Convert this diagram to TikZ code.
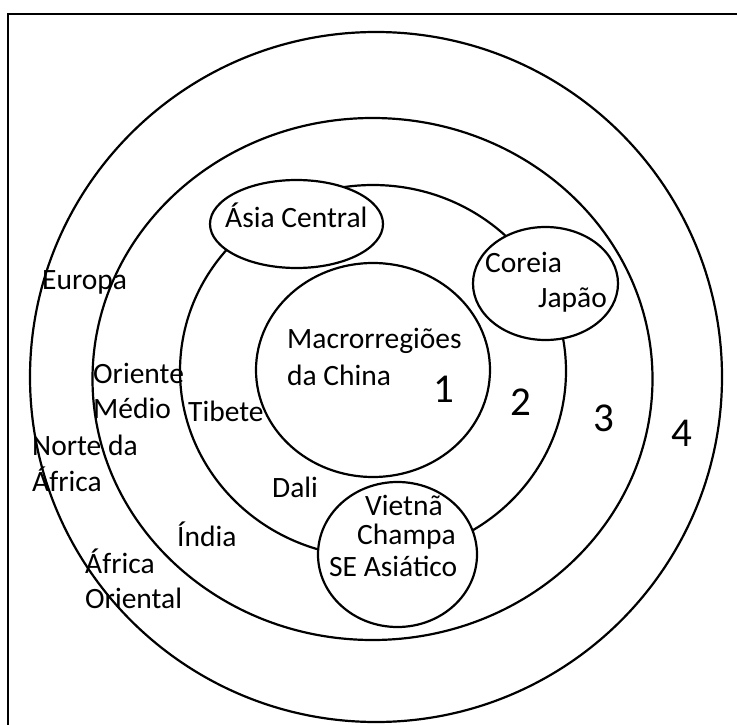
\documentclass[tikz,border=0pt]{standalone}
\usepackage{fontspec}
\setmainfont{Carlito}
\usetikzlibrary{shapes.geometric}
\begin{document}
\begin{tikzpicture}[x=1pt,y=-1pt,
  ring/.style={draw=black,line width=2.2pt},
  blob/.style={ellipse,draw=black,line width=2.2pt,fill=white,inner sep=0pt},
  lbl/.style={anchor=base west,inner sep=0pt,font=\fontsize{29.5}{35}\selectfont},
  num/.style={anchor=base west,inner sep=0pt,font=\fontsize{41}{48}\selectfont}]
\useasboundingbox (0,0) rectangle (737,725);
\clip (0,0) rectangle (737,725);
\fill[white] (0,0) rectangle (737,725);
% frame
\draw[line width=2.2pt] (8,740) -- (8,14) -- (750,14);
% rings
\draw[ring] (376,377) ellipse [x radius=346, y radius=345];
\draw[ring] (372.5,379) ellipse [x radius=280, y radius=261];
\draw[ring] (373,371) ellipse [x radius=193, y radius=186];
\draw[ring] (373,370) ellipse [x radius=117, y radius=107];
% regional ellipses
\node[blob,minimum width=173pt,minimum height=88pt] (asia) at (296.5,224) {};
\node[blob,minimum width=145pt,minimum height=113pt] (coreia) at (545.5,283.5) {};
\node[blob,minimum width=159pt,minimum height=145pt] (vietna) at (397.5,554.5) {};
% labels
\node[lbl] (tAsia) at (225,227) {Ásia Central};
\node[lbl] (tCoreia) at (485,272) {Coreia};
\node[lbl] (tJapao) at (538,307) {Japão};
\node[lbl] (tViet) at (365,515) {Vietnã};
\node[lbl] (tChampa) at (357,544) {Champa};
\node[lbl] (tSE) at (329,576) {SE Asiático};
\node[lbl] (tMacro) at (287,348) {Macrorregiões};
\node[lbl] (tChina) at (287,385) {da China};
\node[lbl] (tEuropa) at (42,289) {Europa};
\node[lbl] (tOriente) at (93,383.5) {Oriente};
\node[lbl] (tMedio) at (93,418) {Médio};
\node[lbl] (tTibete) at (188,421.5) {Tibete};
\node[lbl] (tNorte) at (32,455) {Norte da};
\node[lbl] (tAfrica) at (32,491) {África};
\node[lbl] (tDali) at (272,497) {Dali};
\node[lbl] (tIndia) at (177,546) {Índia};
\node[lbl] (tAfricaO) at (85,573) {África};
\node[lbl] (tOriental) at (85,608) {Oriental};
% ring numbers
\node[num] (n1) at (433,402) {1};
\node[num] (n2) at (510,415) {2};
\node[num] (n3) at (593,431) {3};
\node[num] (n4) at (671,446) {4};
\end{tikzpicture}
\end{document}
